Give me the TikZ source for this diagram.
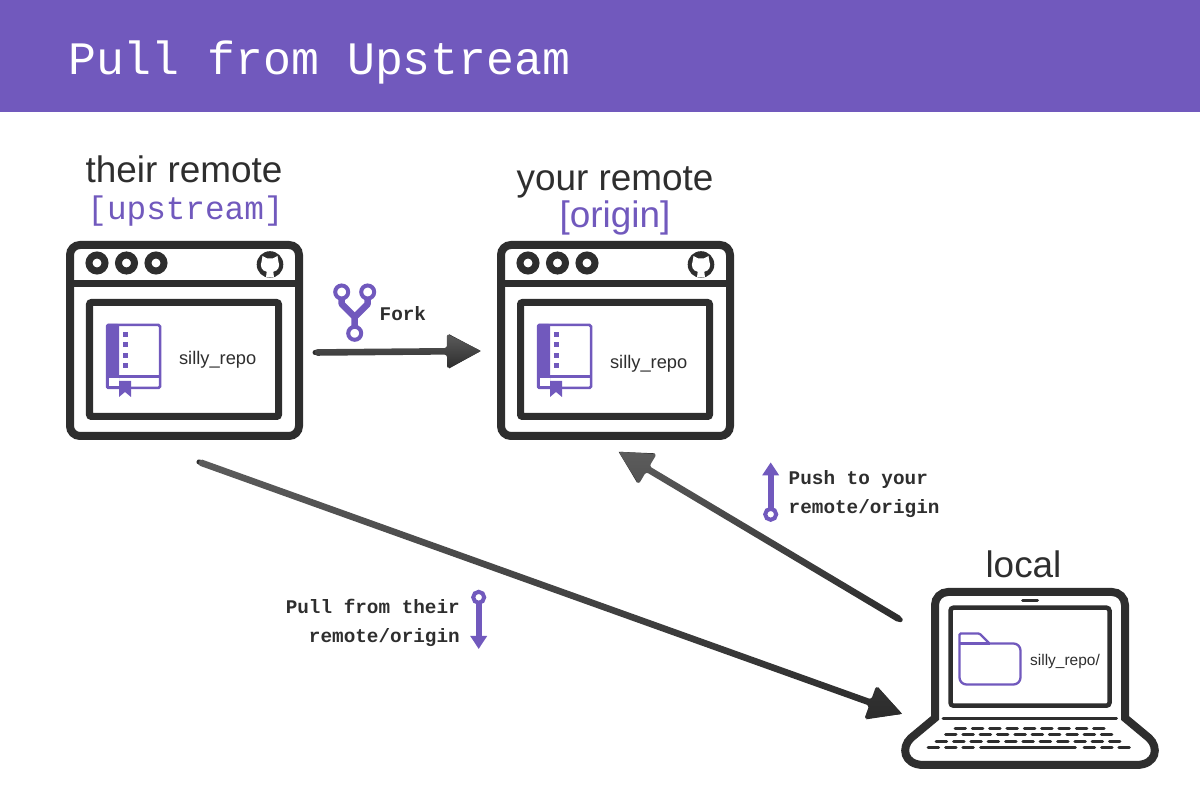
\documentclass[tikz,border=0pt]{standalone}
\usepackage{fontspec}
\setmainfont{Liberation Sans}
\newfontfamily\codefont{Liberation Mono}
\usetikzlibrary{arrows.meta,calc,positioning}
\definecolor{headpurple}{HTML}{7159BD}
\definecolor{ink}{HTML}{2E2E2E}
\definecolor{arrowtop}{HTML}{5C5C5C}
\definecolor{arrowbot}{HTML}{2C2C2C}
\newcommand{\bigarrow}[2]{
\draw [arrow] (#1) -- (#2);
\coordinate (neck) at ($(#2)!.34cm!(#1)$);
\shade [top color=arrowtop,bottom color=arrowbot,rounded corners=.025cm]
  ($(#1)!.033cm!90:(#2)$) -- ($(neck)!.033cm!90:(#2)$) -- ($(neck)!.175cm!90:(#2)$) -- (#2)
  -- ($(neck)!.175cm!-90:(#2)$) -- ($(neck)!.033cm!-90:(#2)$) -- ($(#1)!.033cm!-90:(#2)$) -- cycle;
}
\tikzset{
  browser/.style={draw=ink,line width=.08cm,rectangle,rounded corners=.1cm,minimum width=2.29cm,minimum height=1.91cm,inner sep=0pt},
  pane/.style={draw=ink,line width=.07cm,rectangle,rounded corners=.02cm,minimum width=1.89cm,minimum height=1.14cm,inner sep=0pt},
  windot/.style={draw=ink,fill=white,line width=.07cm,circle,minimum size=.16cm,inner sep=0pt},
  ringdot/.style={draw=headpurple,fill=white,circle,line width=.04cm,minimum size=.11cm,inner sep=0pt,outer sep=0pt},
  forkdot/.style={draw=headpurple,fill=white,circle,line width=.04cm,minimum size=.13cm,inner sep=0pt,outer sep=0pt},
  arrow/.style={color=arrowbot,line width=.05cm,line cap=round,-{Triangle[length=.32cm,width=.33cm]}},
  miniarrow/.style={draw=headpurple,line width=.06cm,-{Triangle[length=.13cm,width=.16cm]},fill=headpurple},
  keyrow/.style={draw=ink,line width=.03cm,line cap=round},
  sans/.style={text=ink,inner sep=0pt,anchor=base,font=\fontsize{10.5}{12}\selectfont},
  mono/.style={text=headpurple,inner sep=0pt,anchor=base,font=\codefont\fontsize{#1}{12}\selectfont},
  repotext/.style={text=ink,inner sep=0pt,anchor=base,font=\fontsize{#1}{7}\selectfont},
  howto/.style={text=ink,inner sep=0pt,font=\codefont\bfseries\fontsize{5.5}{8.25}\selectfont}
}
\begin{document}
\begin{tikzpicture}
\useasboundingbox (0,0) rectangle (12,-8);
\fill [headpurple] (0,0) rectangle (12,-1.12);
\node [inner sep=0pt,anchor=base west,text=white,font=\codefont\fontsize{13.23}{14}\selectfont] (title) at (.675,-.75) {Pull from Upstream};
% the two browser windows
\foreach \w/\dx/\ty in {A/0/3.65,B/4.31/3.69} {
\begin{scope}[shift={(\dx,0)}]
\node [browser] (win\w) at (1.845,-3.405) {};
\draw [ink,line width=.07cm] (.70,-2.835) -- (2.99,-2.835);
\node [windot] (dot\w1) at (.97,-2.63) {};
\node [windot,right=.065cm of dot\w1] (dot\w2) {};
\node [windot,right=.065cm of dot\w2] (dot\w3) {};
\node [pane] (pane\w) at (1.84,-3.595) {};
% github mark
\fill [ink] (2.70,-2.645) circle (.133);
\begin{scope}[shift={(2.70,-2.645)}]
\fill [white] (-.075,.085) -- (-.03,.062) -- (.03,.062) -- (.075,.085) -- (.083,.035)
  .. controls (.105,-.02) and (.08,-.065) .. (.033,-.072) -- (.04,-.128) -- (-.04,-.128) -- (-.033,-.072)
  .. controls (-.08,-.065) and (-.105,-.02) .. (-.083,.035) -- cycle;
\end{scope}
% repo book
\fill [headpurple,rounded corners=.015cm] (1.06,-3.24) rectangle (1.19,-3.89);
\draw [headpurple,line width=.025cm,rounded corners=.015cm] (1.07,-3.25) rectangle (1.60,-3.88);
\draw [headpurple,line width=.025cm] (1.18,-3.765) -- (1.60,-3.765);
\fill [white] (1.09,-3.78) rectangle (1.19,-3.865);
\foreach \by in {3.317,3.425,3.53,3.63} {
\fill [headpurple] (1.23,-\by) rectangle (1.28,-\by-.05);
}
\fill [headpurple] (1.19,-3.81) -- (1.31,-3.81) -- (1.31,-3.97) -- (1.25,-3.92) -- (1.19,-3.97) -- cycle;
\node [repotext=5.2] (repo\w) at (2.177,-\ty) {silly\_repo};
\end{scope}
}
% laptop
\draw [ink,line width=.08cm,fill=white] (9.35,-7.18) [rounded corners=.13cm] -- (9.35,-5.92) -- (11.25,-5.92) [sharp corners] -- (11.25,-7.18) -- (11.49,-7.38)
  .. controls (11.59,-7.47) and (11.57,-7.65) .. (11.36,-7.65) -- (9.24,-7.65) .. controls (9.03,-7.65) and (9.01,-7.47) .. (9.11,-7.38) -- cycle;
\node [draw=ink,line width=.045cm,rectangle,rounded corners=.03cm,minimum width=1.59cm,minimum height=.98cm,inner sep=0pt] (laptop) at (10.30,-6.567) {};
\draw [ink,line width=.03cm,line cap=round] (10.225,-6.01) -- (10.375,-6.01);
\draw [ink,line width=.03cm,line cap=round] (9.43,-7.19) -- (11.165,-7.19);
\foreach \k in {0,...,8} {
\draw [keyrow] (9.55+\k*.1733,-7.287) -- ++(.105,0);
}
\foreach \k in {0,...,9} {
\draw [keyrow] (9.455+\k*.1733,-7.35) -- ++(.105,0);
}
\foreach \k in {0,...,10} {
\draw [keyrow] (9.362+\k*.1733,-7.413) -- ++(.105,0);
}
\foreach \k in {0,1,2} {
\draw [keyrow] (9.282+\k*.1733,-7.477) -- ++(.105,0);
\draw [keyrow] (10.842+\k*.1733,-7.477) -- ++(.105,0);
}
\draw [keyrow] (9.805,-7.477) -- (10.753,-7.477);
% folder
\draw [headpurple,line width=.023cm] (9.595,-6.435) -- (9.895,-6.435);
\draw [headpurple,line width=.023cm] (9.595,-6.335) [rounded corners=.012cm] -- (9.795,-6.335) [sharp corners] -- (9.895,-6.435) [rounded corners=.07cm] -- (10.205,-6.435) -- (10.205,-6.845) -- (9.595,-6.845) [rounded corners=.012cm] -- cycle;
\node [repotext=4.4] (repoC) at (10.65,-6.657) {silly\_repo/};
% headings
\node [sans] (theirs) at (1.84,-1.825) {their remote};
\node [mono=9.3] (upstream) at (1.855,-2.20) {[upstream]};
\node [sans] (yours) at (6.15,-1.905) {your remote};
\node [sans,text=headpurple] (origin) at (6.15,-2.28) {[origin]};
\node [sans] (local) at (10.235,-5.775) {local};
% fork icon
\node [forkdot] (forkl) at (3.417,-2.92) {};
\node [forkdot] (forkr) at (3.677,-2.92) {};
\node [forkdot] (forkb) at (3.547,-3.333) {};
\draw [headpurple,line width=.065cm,line join=round] (forkl) -- (3.417,-3.04) -- (3.547,-3.17) -- (forkb);
\draw [headpurple,line width=.065cm,line join=round] (forkr) -- (3.677,-3.04) -- (3.547,-3.17);
\node [howto,anchor=base west] (forklabel) at (3.79,-3.207) {Fork};
% big arrows
\coordinate (forkfrom) at ([shift={(.12,-.12)}]winA.east);
\coordinate (forkto) at ([shift={(-.16,-.105)}]winB.west);
\coordinate (pullfrom) at ([shift={(.145,-.22)}]winA.south);
\coordinate (pullto) at ([shift={(-.46,-.06)}]laptop.south west);
\coordinate (pushfrom) at ([shift={(-.48,-.143)}]laptop.north west);
\coordinate (pushto) at ([shift={(.03,-.117)}]winB.south);
\bigarrow{forkfrom}{forkto}
\bigarrow{pullfrom}{pullto}
\bigarrow{pushfrom}{pushto}
% small arrows
\node [ringdot] (pushring) at (7.707,-5.143) {};
\coordinate (pushtip) at (7.707,-4.623);
\draw [miniarrow] (pushring) -- (pushtip);
\node [howto,align=left,anchor=north west] (pushlabel) at (7.88,-4.695) {Push to your\\remote/origin};
\node [ringdot] (pullring) at (4.787,-5.973) {};
\coordinate (pulltip) at (4.787,-6.49);
\draw [miniarrow] (pullring) -- (pulltip);
\node [howto,align=right,anchor=north east] (pulllabel) at (4.605,-5.985) {Pull from their\\remote/origin};
\end{tikzpicture}
\end{document}
